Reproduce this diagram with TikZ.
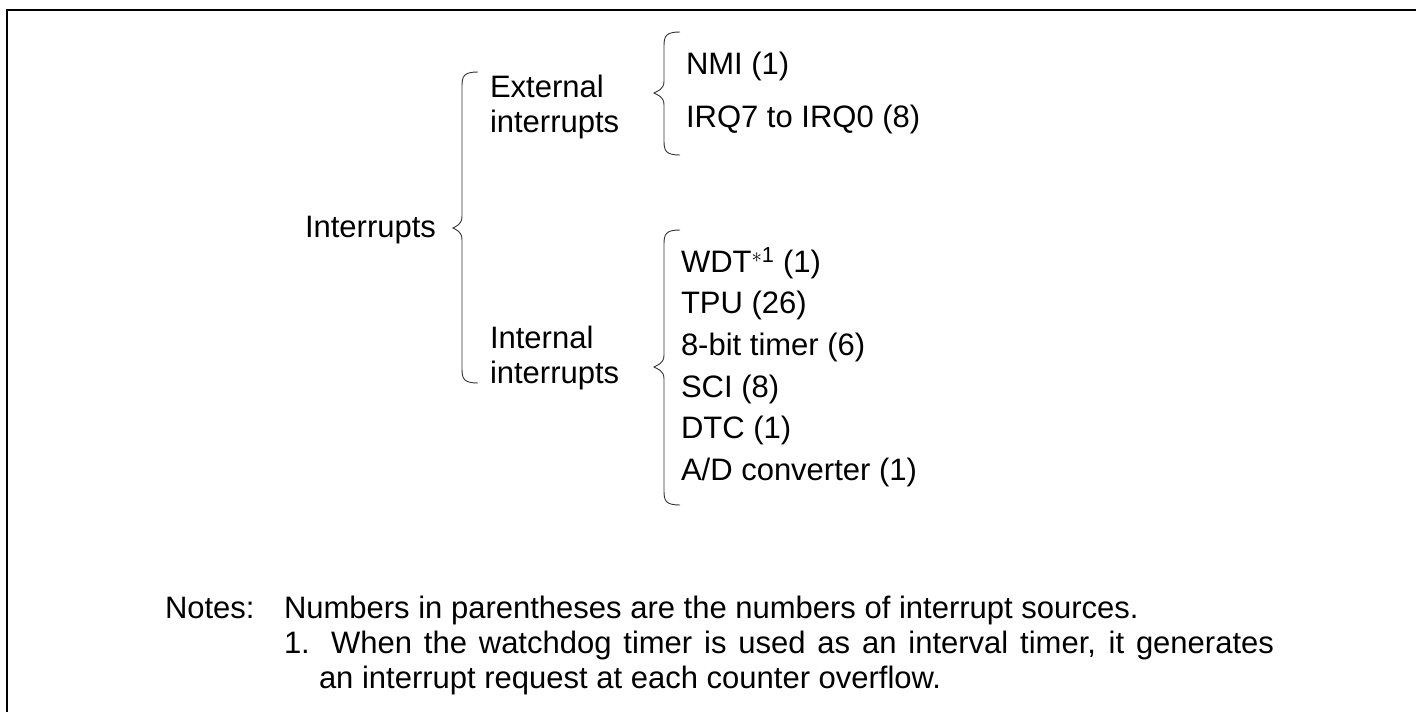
\documentclass[tikz,border=0pt]{standalone}
\usepackage{fontspec}
\setmainfont{Liberation Sans}
\tikzset{
  txt/.style={anchor=base west, inner sep=0pt, outer sep=0pt, font=\fontsize{31}{36}\selectfont},
  frameline/.style={line width=1.2pt, black},
  bracel/.style={line width=0.9pt, black!80}
}
\newcommand\mybrace[5]{% xv, ytop, ytip, ybot, xtip
  \draw[bracel] (#1+16,#2) .. controls (#1+2,#2) and (#1,#2+4) .. (#1,#2+14)
    -- (#1,#3-12) .. controls (#1,#3-3) and (#5+3,#3-2) .. (#5,#3)
    .. controls (#5+3,#3+2) and (#1,#3+3) .. (#1,#3+12)
    -- (#1,#4-14) .. controls (#1,#4-4) and (#1+2,#4) .. (#1+16,#4);
}
\begin{document}
\begin{tikzpicture}[x=1pt,y=-1pt]
\useasboundingbox (0,0) rectangle (1416,712);
\draw[frameline] (7,712) -- (7,10) -- (1416,10);

\node[txt] (irq) at (305,237) {Interrupts};
\node[txt] (ext1) at (490,97) {External};
\node[txt] (ext2) at (490,132) {interrupts};
\node[txt] (int1) at (490,348) {Internal};
\node[txt] (int2) at (490,383) {interrupts};

\node[txt] (nmi) at (686,74) {NMI (1)};
\node[txt] (irqs) at (686,127) {IRQ7 to IRQ0 (8)};

\node[txt] (wdt) at (681,272) {WDT\textsuperscript{$\ast$1} (1)};
\node[txt] (tpu) at (681,313) {TPU (26)};
\node[txt] (tmr) at (681,355) {8-bit timer (6)};
\node[txt] (sci) at (681,397) {SCI (8)};
\node[txt] (dtc) at (681,438) {DTC (1)};
\node[txt] (adc) at (681,480) {A/D converter (1)};

\mybrace{462}{72}{228}{383}{453}
\mybrace{664}{32}{93}{155}{654}
\mybrace{664}{230}{367}{505}{654}

\node[txt] (notes) at (165,618) {Notes:};
\node[txt] (n1) at (284,618) {Numbers in parentheses are the numbers of interrupt sources.};
\node[txt] (n2) at (284,653) {\makebox[990pt][s]{1. When the watchdog timer is used as an interval timer, it generates}};
\node[txt] (n3) at (319,688) {an interrupt request at each counter overflow.};
\end{tikzpicture}
\end{document}
